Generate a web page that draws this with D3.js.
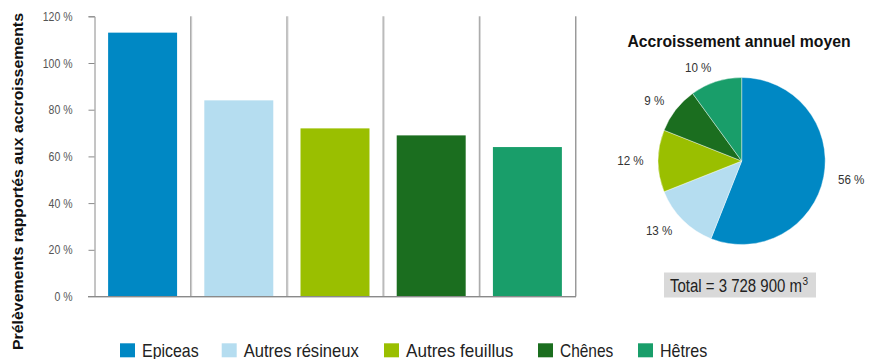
<!DOCTYPE html>
<html>
<head>
<meta charset="utf-8">
<script src="https://cdn.jsdelivr.net/npm/d3@7"></script>
<style>
  html, body { margin: 0; padding: 0; background: #fff; }
  svg { display: block; }
  text { font-family: "Liberation Sans", Arial, sans-serif; }
</style>
</head>
<body>
<svg id="chart" width="873" height="359"></svg>
<script>
// Species and their values
const species = ["Epiceas", "Autres résineux", "Autres feuillus", "Chênes", "Hêtres"];
const harvestRatio = [113, 84, 72, 69, 64];      // % prélèvements / accroissements
const growthShare = [56, 13, 12, 9, 10];          // % of annual growth
const speciesColors = ["#0088c4", "#b5ddf0", "#9abf00", "#1b6e1f", "#199e6a"];
const yTicks = [0, 20, 40, 60, 80, 100, 120];
const totalLabel = "Total = 3 728 900 m";

const svg = d3.select("#chart");

// squeeze a text horizontally to mimic a condensed face
function condense(sel, factor) {
  sel.each(function () {
    const len = this.getComputedTextLength();
    d3.select(this).attr("textLength", len * factor).attr("lengthAdjust", "spacingAndGlyphs");
  });
}
function fitTo(sel, width) {
  sel.attr("textLength", width).attr("lengthAdjust", "spacingAndGlyphs");
}

// ---- Bar chart ----
const x = d3.scaleBand().domain(species).range([94.5, 575.5]).paddingInner(0.283).paddingOuter(0.1415);
const xBand = d3.scaleBand().domain(species).range([94.5, 575.5]).padding(0);
const y = d3.scaleLinear().domain([0, 120]).range([296.5, 16.3]);

// vertical separators between categories
const seps = species.map(s => xBand(s) + xBand.bandwidth());
svg.append("g").selectAll("line").data(seps).join("line")
  .attr("x1", d => d + 1).attr("x2", d => d + 1)
  .attr("y1", y(120)).attr("y2", y(0))
  .attr("stroke", "#cfcfcf").attr("stroke-width", 1);
svg.append("g").selectAll("line").data(seps).join("line")
  .attr("x1", d => d).attr("x2", d => d)
  .attr("y1", y(120)).attr("y2", y(0))
  .attr("stroke", "#9a9a9a").attr("stroke-width", 1);

// bars
svg.append("g").selectAll("rect").data(species).join("rect")
  .attr("x", d => x(d))
  .attr("width", x.bandwidth())
  .attr("y", (d, i) => y(harvestRatio[i]))
  .attr("height", (d, i) => y(0) - y(harvestRatio[i]))
  .attr("fill", (d, i) => speciesColors[i]);

// y axis
const yAxis = d3.axisLeft(y).tickValues(yTicks).tickFormat(d => d + " %").tickSize(6).tickPadding(16);
const gy = svg.append("g").attr("transform", "translate(94.5,0)").call(yAxis);
gy.select(".domain").attr("stroke", "#8a8a8a");
gy.selectAll(".tick line").attr("stroke", "#8a8a8a");
const tickText = gy.selectAll(".tick text").attr("fill", "#555")
  .style("font-size", "12.5px").style("font-family", "'Liberation Sans', Arial, sans-serif");
condense(tickText, 0.84);

// baseline
svg.append("line").attr("x1", 88).attr("x2", 576).attr("y1", y(0) + 1).attr("y2", y(0) + 1)
  .attr("stroke", "#cfcfcf").attr("stroke-width", 1);
svg.append("line").attr("x1", 88).attr("x2", 576).attr("y1", y(0)).attr("y2", y(0))
  .attr("stroke", "#8a8a8a").attr("stroke-width", 1);

// y axis title
const yTitle = svg.append("text")
  .attr("transform", "translate(23,181.5) rotate(-90)")
  .attr("text-anchor", "middle")
  .style("font-size", "15.5px").style("font-weight", "bold").attr("fill", "#111")
  .text("Prélèvements rapportés aux accroissements");
fitTo(yTitle, 337);

// ---- Pie chart ----
const cx = 741.7, cy = 161, r = 83.5;
const pie = d3.pie().sort(null).value(d => d.v);
const arcs = pie(species.map((s, i) => ({ s, v: growthShare[i], c: speciesColors[i] })));
const arc = d3.arc().innerRadius(0).outerRadius(r);
const labelArc = d3.arc().innerRadius(98).outerRadius(98);

const gp = svg.append("g").attr("transform", `translate(${cx},${cy})`);
gp.selectAll("path").data(arcs).join("path")
  .attr("d", arc).attr("fill", d => d.data.c)
  .attr("stroke", "#fff").attr("stroke-width", 0.4);
const pieLabels = gp.selectAll("text").data(arcs).join("text")
  .attr("transform", d => `translate(${labelArc.centroid(d)})`)
  .attr("text-anchor", d => ((d.startAngle + d.endAngle) / 2 < Math.PI ? "start" : "end"))
  .attr("dy", "0.35em")
  .style("font-size", "12.5px").attr("fill", "#333")
  .text(d => d.data.v + " %");
condense(pieLabels, 0.93);

const pieTitle = svg.append("text").attr("x", 739).attr("y", 46.7).attr("text-anchor", "middle")
  .style("font-size", "16px").style("font-weight", "bold").attr("fill", "#111")
  .text("Accroissement annuel moyen");
fitTo(pieTitle, 223);

// total box
svg.append("rect").attr("x", 664).attr("y", 272.5).attr("width", 152).attr("height", 25).attr("fill", "#d9d9d9");
const tt = svg.append("text").attr("x", 670).attr("y", 291.5)
  .style("font-size", "18px").attr("fill", "#222");
const ttMain = tt.append("tspan").text(totalLabel);
fitTo(ttMain, 132);
tt.append("tspan").attr("dx", "0.5").attr("dy", "-7").style("font-size", "10px").text("3");

// ---- Legend ----
const legendX = [120, 221.7, 384, 538, 638];
const legendW = [56.7, 115, 107.3, 53.3, 47.3];
const lg = svg.append("g").selectAll("g").data(species).join("g")
  .attr("transform", (d, i) => `translate(${legendX[i]},343.3)`);
lg.append("rect").attr("width", 15).attr("height", 14).attr("fill", (d, i) => speciesColors[i]);
lg.append("text").attr("x", 22).attr("y", 14)
  .style("font-size", "19px").attr("fill", "#222").text(d => d)
  .attr("textLength", (d, i) => legendW[i]).attr("lengthAdjust", "spacingAndGlyphs");
</script>
</body>
</html>
